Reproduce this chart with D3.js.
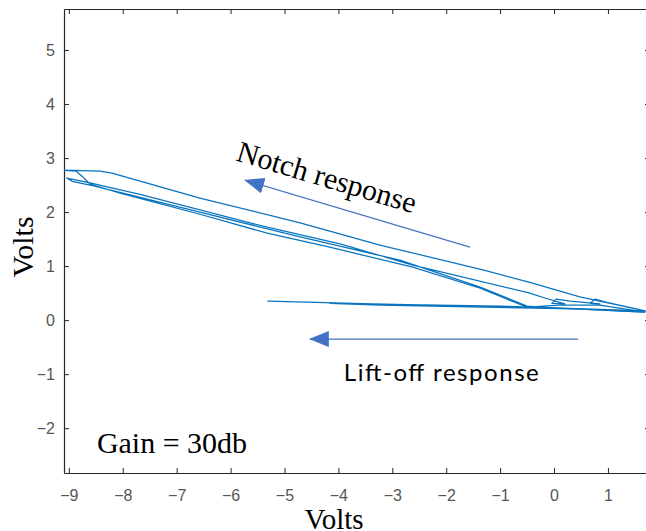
<!DOCTYPE html>
<html>
<head>
<meta charset="utf-8">
<script src="https://cdn.jsdelivr.net/npm/d3@7"></script>
<style>
  body { margin: 0; background: #fff; }
  svg { display: block; }
</style>
</head>
<body>
<div id="chart"></div>
<script>
// Lift-off sweep (volts)
const liftoffX = [1.69, 0.11, -2.49, -5.31, -3.36, -0.63, 1.69, -1.00, -4.16, -3.23, 0.85, 1.69]
const liftoffY = [0.15, 0.22, 0.28, 0.35, 0.30, 0.24, 0.17, 0.26, 0.31, 0.28, 0.20, 0.17]

// Notch loops (volts)
const notchX = [1.69, 0.85, 0.11, -0.50, -1.37, -2.62, -4.16, -5.32, -6.57, -8.05, -8.61, -8.76, -8.87, -9.26,
  -8.42, -8.20, -6.57, -4.71, -3.23, -1.32, -0.45, 0.48, 1.69,
  0.98, 0.76, 0.67, 0.85, 0.30, 0.04, -0.04, 0.20, -0.17, -0.45, -2.62, -3.97, -5.32, -7.68, -8.61, -9.04,
  -8.94, -8.52, -6.57, -4.71, -2.86, -1.37, -0.50, 0.11, 1.69]
const notchY = [0.15, 0.28, 0.28, 0.24, 0.59, 0.98, 1.35, 1.61, 1.96, 2.35, 2.52, 2.67, 2.76, 2.78,
  2.76, 2.72, 2.26, 1.80, 1.39, 0.93, 0.70, 0.43, 0.17,
  0.33, 0.39, 0.31, 0.30, 0.35, 0.39, 0.31, 0.30, 0.41, 0.50, 1.02, 1.41, 1.72, 2.33, 2.54, 2.63,
  2.57, 2.48, 2.00, 1.54, 1.11, 0.61, 0.26, 0.22, 0.15]

const xTicks = [-9, -8, -7, -6, -5, -4, -3, -2, -1, 0, 1]
const yTicks = [-2, -1, 0, 1, 2, 3, 4, 5]
const xLimits = [-9.09, 1.78]
const yLimits = [-2.83, 5.76]

// annotation arrows [tail, head] in volts
const notchArrow = [[-1.56, 1.35], [-5.73, 2.59]]
const liftoffArrow = [[0.45, -0.35], [-4.53, -0.35]]

// Create SVG
const svg = d3.select('#chart').append('svg')
  .attr('width', 646)
  .attr('height', 531)
  .style('background', '#fff')

// plot box
const plot = {left: 64, right: 650, top: 9, bottom: 473}

const x = d3.scaleLinear().domain(xLimits).range([plot.left, plot.right])
const y = d3.scaleLinear().domain(yLimits).range([plot.bottom, plot.top])

svg.append('clipPath').attr('id', 'clip')
  .append('rect')
  .attr('x', plot.left).attr('y', plot.top)
  .attr('width', plot.right - plot.left).attr('height', plot.bottom - plot.top)

// Axes (MATLAB style, ticks pointing in)
const axisColor = '#262626'
const xAxis = d3.axisBottom(x).tickValues(xTicks).tickSizeInner(-5).tickSizeOuter(0).tickPadding(17)
const yAxis = d3.axisLeft(y).tickValues(yTicks).tickSizeInner(-5).tickSizeOuter(0).tickPadding(9)
const topAxis = d3.axisTop(x).tickValues(xTicks).tickSizeInner(-5).tickSizeOuter(0).tickFormat('')
const rightAxis = d3.axisRight(y).tickValues(yTicks).tickSizeInner(-5).tickSizeOuter(0).tickFormat('')

const axes = [
  svg.append('g').attr('transform', `translate(0, ${plot.bottom})`).call(xAxis),
  svg.append('g').attr('transform', `translate(${plot.left}, 0)`).call(yAxis),
  svg.append('g').attr('transform', `translate(0, ${plot.top})`).call(topAxis),
  svg.append('g').attr('transform', `translate(${plot.right}, 0)`).call(rightAxis)
]
axes.forEach((g) => {
  g.select('.domain').attr('stroke', axisColor).attr('stroke-width', 1.2)
  g.selectAll('.tick line').attr('stroke', axisColor).attr('stroke-width', 1)
  g.selectAll('.tick text')
    .attr('fill', '#555')
    .attr('font-family', '"Liberation Sans", Arial, sans-serif')
    .attr('font-size', '16px')
})

// traces
const line = d3.line().x((d) => x(d[0])).y((d) => y(d[1]))
const traces = [
  d3.zip(liftoffX, liftoffY),
  d3.zip(notchX, notchY)
]
svg.append('g').attr('clip-path', 'url(#clip)')
  .selectAll('path')
  .data(traces)
  .enter()
  .append('path')
  .attr('d', line)
  .attr('fill', 'none')
  .attr('stroke', '#0a74c0')
  .attr('stroke-width', 1.25)
  .attr('stroke-linejoin', 'round')

// arrow heads
const arrowColor = '#4472C4'
svg.append('defs').append('marker')
  .attr('id', 'head')
  .attr('markerUnits', 'userSpaceOnUse')
  .attr('markerWidth', 20).attr('markerHeight', 16)
  .attr('refX', 19).attr('refY', 8)
  .attr('orient', 'auto')
  .append('path')
  .attr('d', 'M0,0 L20,8 L0,16 Z')
  .attr('fill', arrowColor)

svg.selectAll('line.arrow')
  .data([notchArrow, liftoffArrow])
  .enter()
  .append('line')
  .attr('class', 'arrow')
  .attr('x1', (d) => x(d[0][0])).attr('y1', (d) => y(d[0][1]))
  .attr('x2', (d) => x(d[1][0])).attr('y2', (d) => y(d[1][1]))
  .attr('stroke', arrowColor)
  .attr('stroke-width', 1.3)
  .attr('marker-end', 'url(#head)')

// text annotations
const serif = '"Liberation Serif", "Times New Roman", serif'

svg.append('text')
  .attr('transform', `translate(${x(-5.92)}, ${y(2.96)}) rotate(16.6)`)
  .attr('font-family', serif)
  .attr('font-size', '30px')
  .attr('fill', '#000')
  .text('Notch response')

svg.append('text')
  .attr('x', x(-8.48)).attr('y', y(-2.46))
  .attr('font-family', serif)
  .attr('font-size', '30px')
  .attr('fill', '#000')
  .text('Gain = 30db')

svg.append('text')
  .attr('x', x(-3.90)).attr('y', y(-1.13))
  .attr('font-family', 'Lato, "Open Sans", sans-serif')
  .attr('font-size', '24px')
  .attr('textLength', 195)
  .attr('fill', '#000')
  .text('Lift-off response')

// axis labels
svg.append('text')
  .attr('x', 334).attr('y', 529)
  .attr('text-anchor', 'middle')
  .attr('font-family', serif)
  .attr('font-size', '29px')
  .attr('fill', '#000')
  .text('Volts')

svg.append('text')
  .attr('transform', 'translate(33, 247) rotate(-90)')
  .attr('text-anchor', 'middle')
  .attr('font-family', serif)
  .attr('font-size', '30px')
  .attr('fill', '#000')
  .text('Volts')
</script>
</body>
</html>
